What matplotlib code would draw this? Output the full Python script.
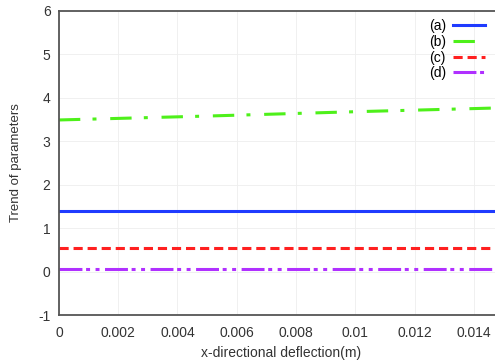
import numpy as np
import matplotlib.pyplot as plt

plt.rcParams['font.family'] = ['Liberation Sans', 'DejaVu Sans']
plt.rcParams['axes.unicode_minus'] = False

deflection = [0.0, 0.005, 0.010, 0.015]
trend_a = [1.39, 1.39, 1.39, 1.39]
trend_b = [3.49, 3.58, 3.68, 3.77]
trend_c = [0.55, 0.55, 0.55, 0.55]
trend_d = [0.07, 0.07, 0.07, 0.07]

labels = ["(a)", "(b)", "(c)", "(d)"]
xticks = [0, 0.002, 0.004, 0.006, 0.008, 0.01, 0.012, 0.014]
xtick_labels = ["0", "0.002", "0.004", "0.006", "0.008", "0.01", "0.012", "0.014"]


def main():
    fig = plt.figure(figsize=(4.95, 3.63), dpi=100)
    ax = fig.add_axes([0.119, 0.132, 0.898, 0.838])

    lw = 2.2
    ax.plot(deflection, trend_a, color="#1f3bff", lw=lw, ls="-", label=labels[0])
    ax.plot(deflection, trend_b, color="#4ef01a", lw=lw, ls=(0, (7, 4, 1.3, 4.5)), label=labels[1])
    ax.plot(deflection, trend_c, color="#ff2020", lw=lw, ls=(0, (3, 1.6)), label=labels[2])
    ax.plot(deflection, trend_d, color="#b030ff", lw=lw, ls=(0, (7.5, 1.2, 1.3, 1.8, 1.3, 1.8)), label=labels[3])

    ax.set_xlim(0, 0.015)
    ax.set_ylim(-1, 6)
    ax.set_xticks(xticks)
    ax.set_xticklabels(xtick_labels)
    ax.set_yticks(range(-1, 7))

    ax.grid(True, color="#eeeeee", lw=0.6)
    ax.tick_params(labelsize=10, length=0, colors="#333333")
    ax.tick_params(axis="x", pad=8)
    ax.tick_params(axis="y", pad=6)
    for side in ["left", "top", "bottom"]:
        ax.spines[side].set_color("#555555")
        ax.spines[side].set_linewidth(1.3)
    ax.spines["right"].set_visible(False)

    ax.set_xlabel("x-directional deflection(m)", fontsize=10, color="#333333", labelpad=4)
    ax.set_ylabel("Trend of parameters", fontsize=9.5, color="#333333", labelpad=12)

    ax.legend(loc="upper right", bbox_to_anchor=(0.977, 1.0), frameon=False, markerfirst=False,
              fontsize=10, handlelength=2.3, labelspacing=0.12, handletextpad=0.5,
              borderaxespad=0.2)

    fig.savefig("out.png", dpi=100)
    plt.close(fig)


if __name__ == "__main__":
    main()
